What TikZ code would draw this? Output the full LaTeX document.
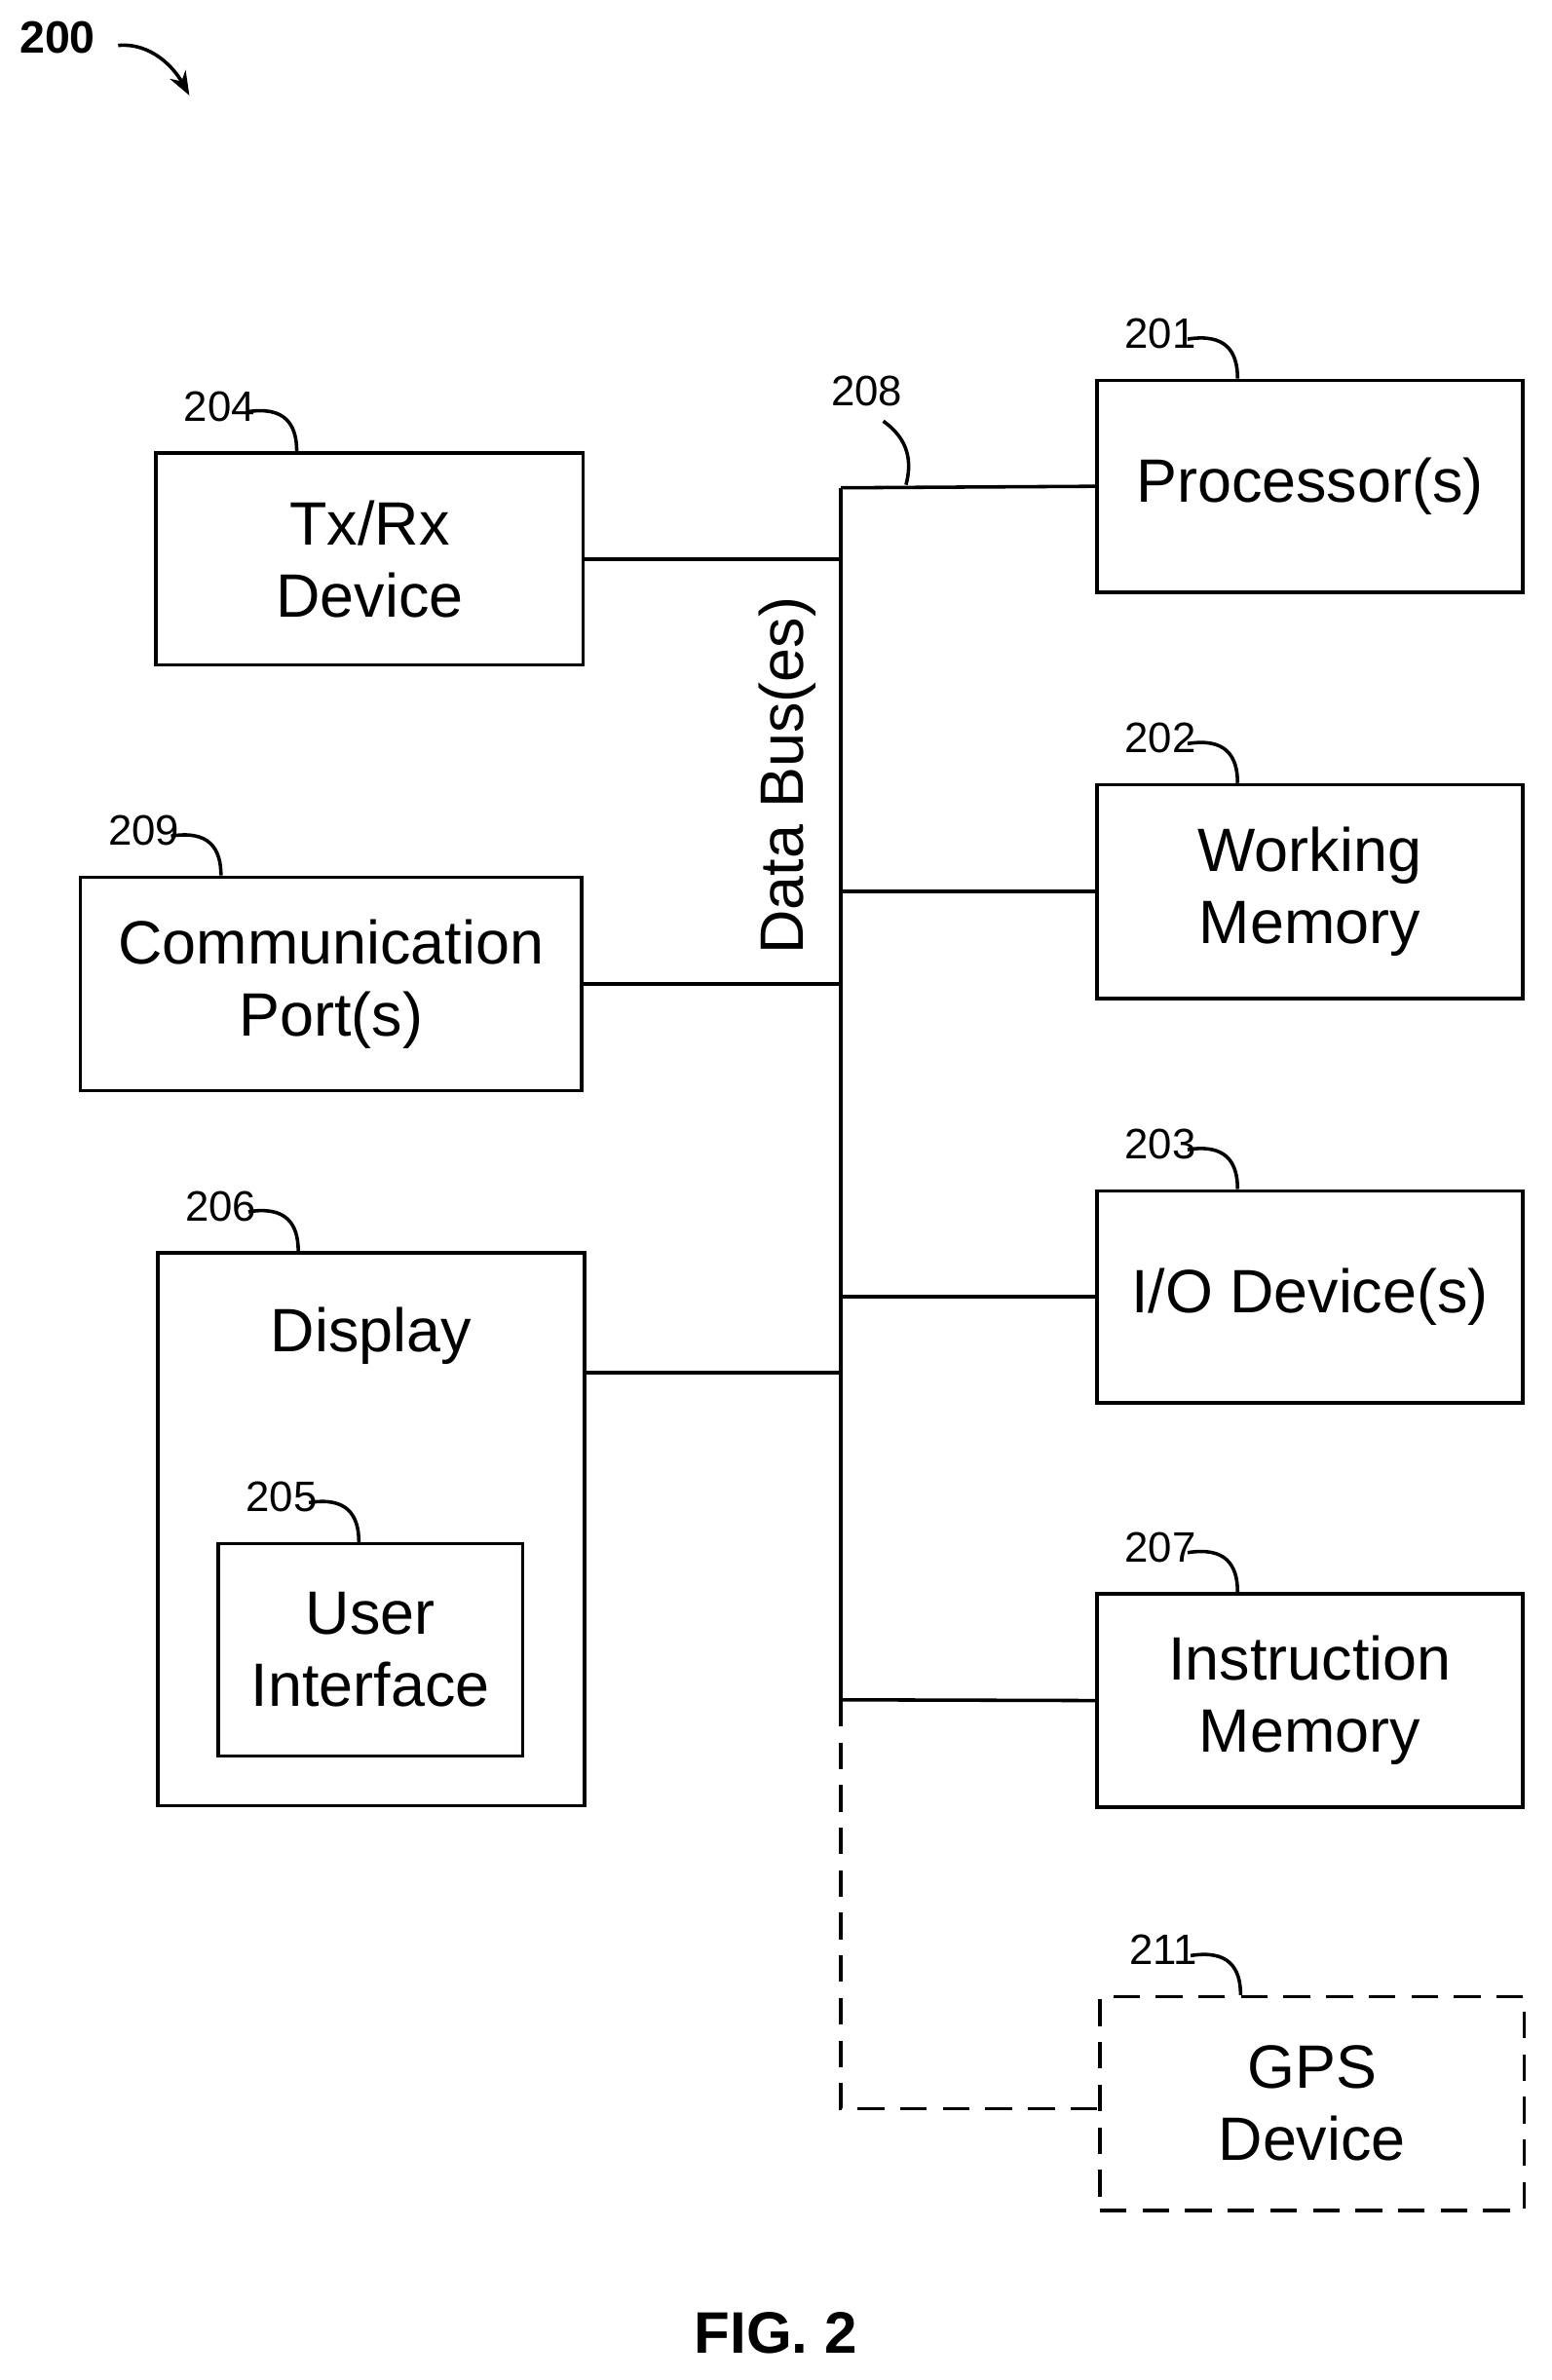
\documentclass[tikz,border=0pt]{standalone}
\usepackage{fontspec}
\setmainfont{Liberation Sans}
\usetikzlibrary{calc}
\usetikzlibrary{arrows.meta}
\tikzset{
	every path/.style={line width=1.3pt},
	align=center,
	block/.style={
		draw,
		rectangle,
		font=\fontsize{23}{27}\selectfont,
	},
	optional/.style={dashed, dash pattern=on 10pt off 6pt},
	refnum/.style={font=\fontsize{16}{18}\selectfont, anchor=base},
	bus/.style={},
}
% reference number with its hook, placed above the box's north west corner
\newcommand{\refmark}[2]{%
	\node[refnum] (n#1) at ($(#2.north west)+(43,-20)$) {#1};
	\draw ($(#2.north west)+(61,-26)$) .. controls +(25,-4) and +(0,-18) .. ($(#2.north west)+(94,0)$);
}

\begin{document}
\begin{tikzpicture}[x=0.02cm, y=-0.02cm]
		\useasboundingbox (0,0) rectangle (1024,1571);

		\node[font=\bfseries\fontsize{17}{20}\selectfont] (fig) at (38,25) {200};
		\draw[-{Stealth[length=9pt]}] (78,30) .. controls (100,28) and (115,45) .. (125,63);

		\node[block, minimum width=281*0.02cm, minimum height=140*0.02cm] (proc) at (864.5,321) {Processor(s)};
		\node[block, minimum width=281*0.02cm, minimum height=141*0.02cm] (wmem) at (864.5,588.5) {Working\\Memory};
		\node[block, minimum width=281*0.02cm, minimum height=140*0.02cm] (io) at (864.5,856) {I/O Device(s)};
		\node[block, minimum width=281*0.02cm, minimum height=141*0.02cm] (imem) at (864.5,1122.5) {Instruction\\Memory};
		\node[block, optional, minimum width=280*0.02cm, minimum height=141*0.02cm] (gps) at (866,1388.5) {GPS\\Device};

		\node[block, minimum width=282*0.02cm, minimum height=140*0.02cm] (txrx) at (244,369) {Tx/Rx\\Device};
		\node[block, minimum width=331*0.02cm, minimum height=141*0.02cm] (comm) at (218.5,649.5) {Communication\\Port(s)};
		\node[block, minimum width=282*0.02cm, minimum height=365*0.02cm] (disp) at (245,1009.5) {};
		\node[block, draw=none] (disptxt) at (245,882) {Display};
		\node[block, minimum width=201*0.02cm, minimum height=140*0.02cm] (ui) at (244.5,1089) {User\\Interface};

		\refmark{201}{proc}
		\refmark{202}{wmem}
		\refmark{203}{io}
		\refmark{207}{imem}
		\refmark{211}{gps}
		\refmark{204}{txrx}
		\refmark{209}{comm}
		\refmark{206}{disp}
		\refmark{205}{ui}

		% data bus
		\coordinate (bustop) at (555,322);
		\coordinate (busbot) at (555,1122);
		\coordinate (busend) at (555,1392);
		\draw (bustop) -- (busbot);
		\draw (bustop) -- (proc.west);
		\draw (txrx.east) -- (txrx.east -| bustop);
		\draw (wmem.west) -- (wmem.west -| bustop);
		\draw (comm.east) -- (comm.east -| bustop);
		\draw (io.west) -- (io.west -| bustop);
		\draw (555,906) -- (disp.east |- 0,906);
		\draw (imem.west) -- (busbot);
		\draw[optional] (busbot) -- (busend) -- (gps.west |- busend);
		\node[font=\fontsize{23}{27}\selectfont, rotate=90] (buslbl) at (520,512) {Data Bus(es)};
		\node[refnum] (n208) at (572,268) {208};
		\draw (583,278) .. controls (600,290) and (602,305) .. (598,320);

		\node[font=\bfseries\fontsize{22}{26}\selectfont] (caption) at (512,1540) {FIG. 2};
	\end{tikzpicture}
\end{document}
